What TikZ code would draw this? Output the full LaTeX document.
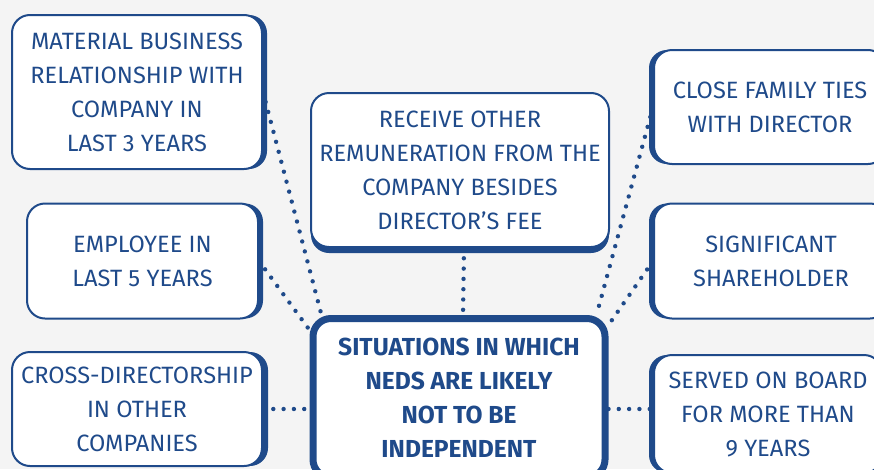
\documentclass[tikz,border=0pt]{standalone}
\usepackage{fontspec}
\setmainfont{Fira Sans}
\usetikzlibrary{shadows,calc,backgrounds}
\definecolor{navy}{RGB}{31,74,138}
\definecolor{fond}{RGB}{244,244,244}
\begin{document}
\begin{tikzpicture}[x=1pt,y=-1pt]
\tikzset{boite/.style={draw=navy, line width=2pt, fill=white, rounded corners=18pt, align=center, text=navy, inner sep=0pt, font=\fontsize{23.6}{34}\selectfont}}
\tikzset{pointille/.style={navy, line width=4.4pt, line cap=round, dash pattern=on 0pt off 10.3pt}}
\useasboundingbox (0,0) rectangle (874,469);
\clip (0,0) rectangle (874,469);
\node[boite, general shadow={fill=navy, shadow xshift=5pt}, minimum width=250, minimum height=154] (material) at (137,92) {MATERIAL BUSINESS\\RELATIONSHIP WITH\\COMPANY IN\\LAST 3 YEARS};
\node[boite, general shadow={fill=navy, shadow yshift=-6pt}, minimum width=298, minimum height=154] (receive) at (460,170) {RECEIVE OTHER\\REMUNERATION FROM THE\\COMPANY BESIDES\\DIRECTOR’S FEE};
\node[boite, general shadow={fill=navy, shadow xshift=-5pt}, minimum width=232, minimum height=114] (family) at (770,107) {CLOSE FAMILY TIES\\WITH DIRECTOR};
\node[boite, general shadow={fill=navy, shadow xshift=5pt}, minimum width=231, minimum height=115] (employee) at (142.5,261) {EMPLOYEE IN\\LAST 5 YEARS};
\node[boite, general shadow={fill=navy, shadow xshift=-5pt}, minimum width=234, minimum height=115] (holder) at (771,261) {SIGNIFICANT\\SHAREHOLDER};
\node[boite, general shadow={fill=navy, shadow xshift=6pt}, minimum width=250, minimum height=114] (cross) at (137,409) {CROSS-DIRECTORSHIP\\IN OTHER\\COMPANIES};
\node[boite, general shadow={fill=navy, shadow xshift=-5pt}, minimum width=228, minimum height=118] (served) at (768,414) {SERVED ON BOARD\\FOR MORE THAN\\9 YEARS};
\node[boite, line width=7pt, font=\fontsize{24.6}{34}\selectfont\bfseries, minimum width=292, minimum height=159] (situations) at (459,398) {SITUATIONS IN WHICH\\NEDS ARE LIKELY\\NOT TO BE\\INDEPENDENT};
\begin{scope}[on background layer]
\fill[fond] (0,0) rectangle (874,469);
\draw[pointille] (material.east) -- ($(situations.north west)+(12,0)$);
\draw[pointille] (employee.east) -- ($(situations.north west)+(0,15)$);
\draw[pointille] ($(receive.south)+(4,0)$) -- ($(situations.north)+(4,0)$);
\draw[pointille] (family.west) -- ($(situations.north east)+(-12,0)$);
\draw[pointille] (holder.west) -- ($(situations.north east)+(0,10)$);
\draw[pointille] (cross.east) -- (cross.east -| situations.west);
\draw[pointille] (situations.east |- cross.east) -- (served.west |- cross.east);
\end{scope}
\end{tikzpicture}
\end{document}
